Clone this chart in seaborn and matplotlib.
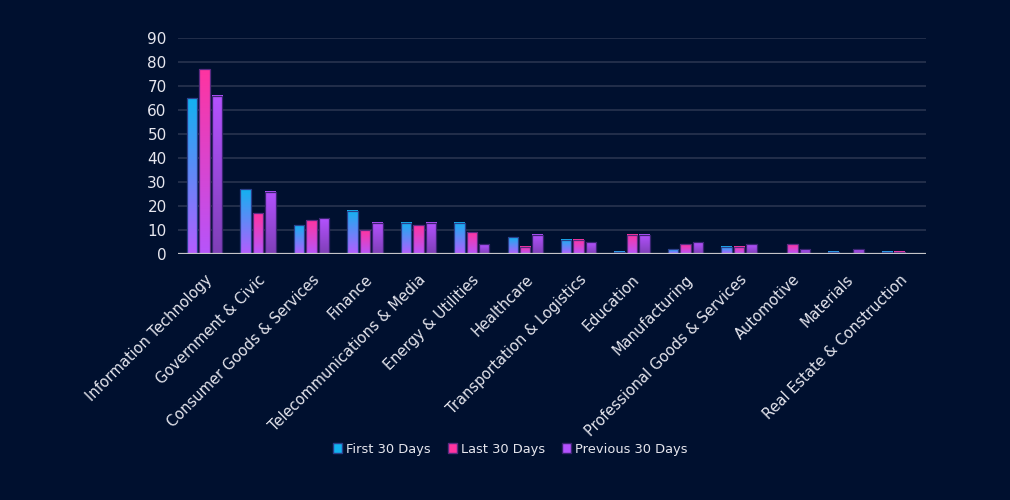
import numpy as np
import pandas as pd
import seaborn as sns
import matplotlib.pyplot as plt
from matplotlib.colors import LinearSegmentedColormap
from matplotlib.patches import Patch

# data
sectors = ["Information Technology", "Government & Civic", "Consumer Goods & Services",
           "Finance", "Telecommunications & Media", "Energy & Utilities", "Healthcare",
           "Transportation & Logistics", "Education", "Manufacturing",
           "Professional Goods & Services", "Automotive", "Materials",
           "Real Estate & Construction"]
first_30 = [65, 27, 12, 18, 13, 13, 7, 6, 1, 2, 3, 0, 1, 1]
last_30 = [77, 17, 14, 10, 12, 9, 3, 6, 8, 4, 3, 4, 0, 1]
previous_30 = [66, 26, 15, 13, 13, 4, 8, 5, 8, 5, 4, 2, 2, 0]
series_names = ["First 30 Days", "Last 30 Days", "Previous 30 Days"]

# gradient colours (bottom, top) per series
gradients = {
    "First 30 Days": ("#b65cff", "#12b2f0"),
    "Last 30 Days": ("#b655fb", "#ff34a0"),
    "Previous 30 Days": ("#7e3fb6", "#b452ff"),
}
edge_cols = {"First 30 Days": "#2a3f8a", "Last 30 Days": "#5a2a80", "Previous 30 Days": "#3a2470"}
bg = "#00102f"
text_col = "#e6e6ee"

df = pd.DataFrame({"sector": sectors, series_names[0]: first_30,
                   series_names[1]: last_30, series_names[2]: previous_30})
df = df.melt(id_vars="sector", var_name="series", value_name="count")

sns.set_theme(style="dark")
plt.rcParams['font.family'] = ['DejaVu Sans']

fig, ax = plt.subplots(figsize=(10.1, 5), dpi=100)
fig.patch.set_facecolor(bg)
ax.set_facecolor(bg)
fig.subplots_adjust(left=0.176, right=0.917, top=0.924, bottom=0.492)

palette = {k: v[1] for k, v in gradients.items()}
sns.barplot(data=df, x="sector", y="count", hue="series", hue_order=series_names,
            palette=palette, width=0.7, gap=0.16, ax=ax, legend=False, zorder=3)

# replace flat fills with vertical gradients
grad = np.linspace(0, 1, 256).reshape(-1, 1)
for name, container in zip(series_names, ax.containers):
    cmap = LinearSegmentedColormap.from_list(name, list(gradients[name]))
    for bar in container:
        h = bar.get_height()
        if h <= 0:
            bar.set_visible(False)
            continue
        x0 = bar.get_x()
        w = bar.get_width()
        ax.imshow(grad, cmap=cmap, origin="lower", aspect="auto",
                  extent=[x0, x0 + w, 0, h], zorder=3)
        bar.set_facecolor("none")
        bar.set_edgecolor(edge_cols[name])
        bar.set_linewidth(0.9)
        bar.set_zorder(4)

ax.set_xlim(-0.5, len(sectors) - 0.5)
ax.set_ylim(0, 90)
ax.set_yticks(range(0, 91, 10))
ax.yaxis.grid(True, color="#28334f", linewidth=1.2, zorder=0)
ax.xaxis.grid(False)
ax.axhline(0, color="#c4c4c8", linewidth=1.6, zorder=5)
for s in ax.spines.values():
    s.set_visible(False)

ax.set_xlabel("")
ax.set_ylabel("")
ax.tick_params(axis="y", colors=text_col, labelsize=11, length=0, pad=8)
ax.tick_params(axis="x", colors=text_col, labelsize=10.5, length=0, pad=13)
for lab in ax.get_xticklabels():
    lab.set_rotation(45)
    lab.set_ha("right")
    lab.set_va("top")
    lab.set_rotation_mode("anchor")

handles = [Patch(facecolor=gradients[n][1], edgecolor=edge_cols[n], label=n) for n in series_names]
leg = fig.legend(handles=handles, loc="center", bbox_to_anchor=(0.505, 0.102), ncol=3,
                 frameon=False, handlelength=0.7, handleheight=0.7, handletextpad=0.3,
                 columnspacing=1.3, fontsize=9.4)
for t in leg.get_texts():
    t.set_color(text_col)

fig.savefig("out.png", dpi=100, facecolor=bg)
